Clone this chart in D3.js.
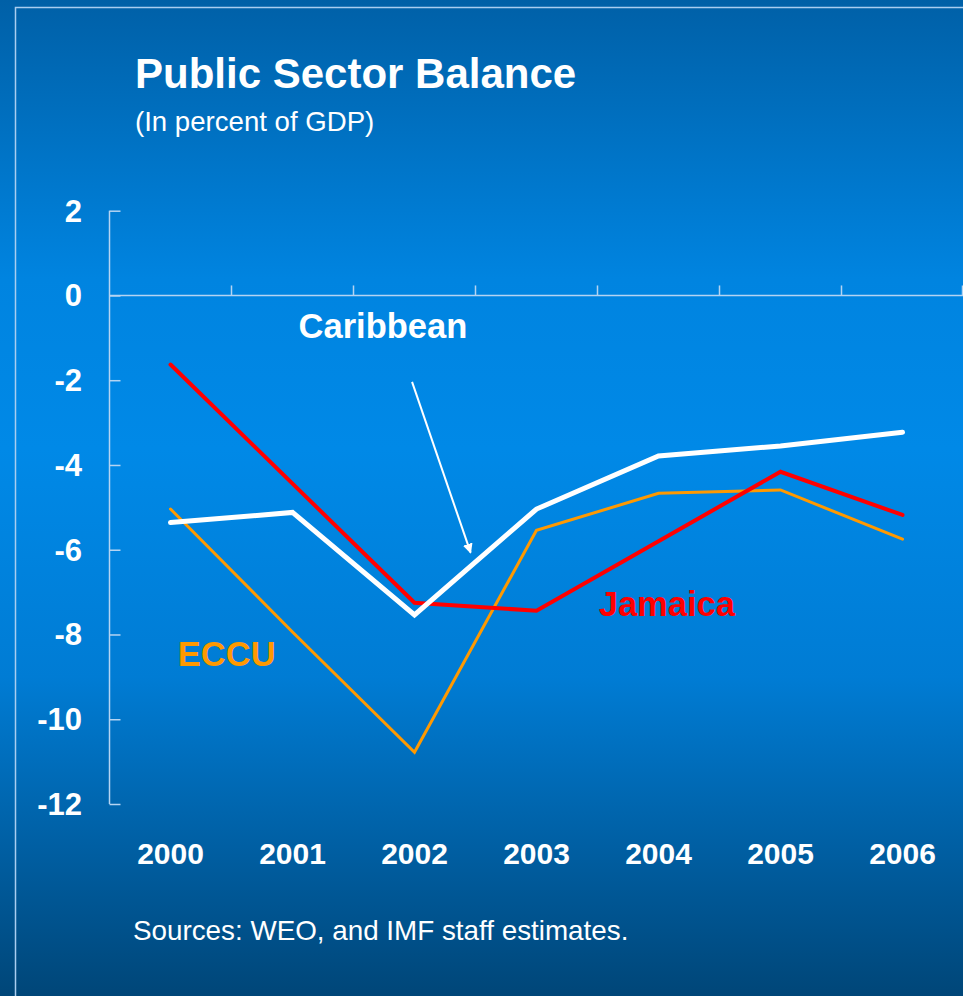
<!DOCTYPE html>
<html>
<head>
<meta charset="utf-8">
<script src="https://cdn.jsdelivr.net/npm/d3@7"></script>
<style>
  html, body { margin: 0; padding: 0; background: #00467a; }
  svg { display: block; font-family: 'Liberation Sans', Arial, sans-serif; }
</style>
</head>
<body>
<div id="chart"></div>
<script>
// data
const years = ['2000', '2001', '2002', '2003', '2004', '2005', '2006'];
const caribbean = [-5.36, -5.12, -7.54, -5.04, -3.79, -3.55, -3.23];
const jamaica = [-1.63, -4.44, -7.25, -7.44, -5.80, -4.16, -5.18];
const eccu = [-5.04, -7.94, -10.78, -5.54, -4.67, -4.59, -5.75];
const yTicks = [2, 0, -2, -4, -6, -8, -10, -12];

const width = 963;
const height = 996;

const svg = d3
    .select('#chart')
    .append('svg')
    .attr('width', width)
    .attr('height', height);

// background
const grad = svg
    .append('defs')
    .append('linearGradient')
    .attr('id', 'bg')
    .attr('x1', '0%')
    .attr('x2', '0%')
    .attr('y1', '0%')
    .attr('y2', '100%');

[
    [0, '#0060a7'],
    [0.28, '#0084e0'],
    [0.45, '#0089e7'],
    [0.68, '#007cd4'],
    [0.85, '#005fa3'],
    [1, '#004678'],
].forEach(([o, c]) => {
    grad.append('stop').attr('offset', o).attr('stop-color', c);
});

svg.append('rect')
    .attr('width', width)
    .attr('height', height)
    .attr('fill', 'url(#bg)');

// slide frame
svg.append('rect')
    .attr('x', 15.5)
    .attr('y', 7.5)
    .attr('width', 1000)
    .attr('height', 1100)
    .attr('fill', 'none')
    .attr('stroke', '#a9cdf0')
    .attr('stroke-width', 1.5);

// titles
svg.append('text')
    .attr('x', 135)
    .attr('y', 88)
    .attr('fill', '#fff')
    .attr('font-weight', 'bold')
    .attr('font-size', 42)
    .text('Public Sector Balance');

svg.append('text')
    .attr('x', 135)
    .attr('y', 131)
    .attr('fill', '#fff')
    .attr('font-size', 27.6)
    .text('(In percent of GDP)');

svg.append('text')
    .attr('x', 133)
    .attr('y', 940)
    .attr('fill', '#fff')
    .attr('font-size', 27.8)
    .text('Sources: WEO, and IMF staff estimates.');

// scales
const left = 109.5;
const right = 963.5;

const x = d3.scaleBand().domain(years).range([left, right]);
const y = d3.scaleLinear().domain([-12, 2]).range([804, 210.7]);
const xc = (i) => x(years[i]) + x.bandwidth() / 2;

const axisColor = '#b5d4f2';

// y axis (ticks point into the plot)
const yAxis = svg
    .append('g')
    .attr('transform', `translate(${left},0)`)
    .call(d3.axisRight(y).tickValues(yTicks).tickSize(11).tickFormat(''));
yAxis.select('.domain').attr('stroke', axisColor).attr('stroke-width', 1.5).attr('d', `M0,${y(2)}V${y(-12)}`);
yAxis.selectAll('line').attr('stroke', axisColor).attr('stroke-width', 1.5);

svg.append('g')
    .selectAll('text')
    .data(yTicks)
    .enter()
    .append('text')
    .attr('x', 82)
    .attr('y', (d) => y(d) + 11)
    .attr('text-anchor', 'end')
    .attr('fill', '#fff')
    .attr('font-weight', 'bold')
    .attr('font-size', 31)
    .text((d) => d);

// x axis at zero, ticks between categories pointing up
const xAxisG = svg.append('g');
xAxisG
    .append('line')
    .attr('x1', left)
    .attr('x2', right)
    .attr('y1', y(0))
    .attr('y2', y(0))
    .attr('stroke', axisColor)
    .attr('stroke-width', 1.5);
xAxisG
    .selectAll('.tk')
    .data(years.slice(1).concat(['end']))
    .enter()
    .append('line')
    .attr('x1', (d) => (d === 'end' ? right - 1 : x(d)))
    .attr('x2', (d) => (d === 'end' ? right - 1 : x(d)))
    .attr('y1', y(0))
    .attr('y2', y(0) - 10)
    .attr('stroke', axisColor)
    .attr('stroke-width', 1.5);

svg.append('g')
    .selectAll('text')
    .data(years)
    .enter()
    .append('text')
    .attr('x', (d) => x(d) + x.bandwidth() / 2)
    .attr('y', 864)
    .attr('text-anchor', 'middle')
    .attr('fill', '#fff')
    .attr('font-weight', 'bold')
    .attr('font-size', 30)
    .text((d) => d);

// lines
const line = d3
    .line()
    .x((d, i) => xc(i))
    .y((d) => y(d));

const series = [
    { values: eccu, color: '#ff9900', w: 3 },
    { values: jamaica, color: '#ff0000', w: 4 },
    { values: caribbean, color: '#ffffff', w: 5 },
];

svg.append('g')
    .selectAll('path')
    .data(series)
    .enter()
    .append('path')
    .attr('d', (d) => line(d.values))
    .attr('fill', 'none')
    .attr('stroke', (d) => d.color)
    .attr('stroke-width', (d) => d.w)
    .attr('stroke-linecap', 'round')
    .attr('stroke-linejoin', 'miter');

// series labels, placed in data units (category index, value)
const xi = (t) => xc(0) + t * x.step();
const labels = [
    { text: 'Caribbean', t: 1.05, v: -1.0, color: '#ffffff' },
    { text: 'Jamaica', t: 3.51, v: -7.57, color: '#ff0000' },
    { text: 'ECCU', t: 0.06, v: -8.75, color: '#ff9900' },
];

svg.append('g')
    .selectAll('text')
    .data(labels)
    .enter()
    .append('text')
    .attr('x', (d) => xi(d.t))
    .attr('y', (d) => y(d.v))
    .attr('fill', (d) => d.color)
    .attr('font-weight', 'bold')
    .attr('font-size', 34.5)
    .text((d) => d.text);

// arrow pointing at the Caribbean line
svg.select('defs')
    .append('marker')
    .attr('id', 'head')
    .attr('viewBox', '0 0 10 10')
    .attr('refX', 9)
    .attr('refY', 5)
    .attr('markerWidth', 5)
    .attr('markerHeight', 5)
    .attr('orient', 'auto')
    .attr('markerUnits', 'strokeWidth')
    .append('path')
    .attr('d', 'M0,0L10,5L0,10z')
    .attr('fill', '#fff');

const arrowFrom = { t: 1.98, v: -2.04 };
const arrowTo = { t: 2.46, v: -6.07 };

svg.append('line')
    .attr('x1', xi(arrowFrom.t))
    .attr('y1', y(arrowFrom.v))
    .attr('x2', xi(arrowTo.t))
    .attr('y2', y(arrowTo.v))
    .attr('stroke', '#fff')
    .attr('stroke-width', 2)
    .attr('marker-end', 'url(#head)');
</script>
</body>
</html>
